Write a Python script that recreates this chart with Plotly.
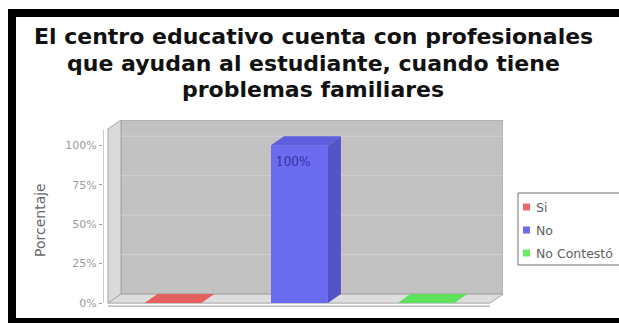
import plotly.graph_objects as go

# ---- data ----
categories = ["Si", "No", "No Contestó"]
values = [0, 100, 0]
colors_front = ["#ee6a6a", "#6b6bef", "#66ee66"]
colors_side = ["#c65454", "#5454c6", "#54c654"]
colors_top = ["#e66060", "#5d5ddd", "#5ee25e"]
y_ticks = [0, 25, 50, 75, 100]
tick_labels = ["0%", "25%", "50%", "75%", "100%"]
title_lines = [
    "El centro educativo cuenta con profesionales",
    "que ayudan al estudiante, cuando tiene",
    "problemas familiares",
]
y_title = "Porcentaje"

# ---- geometry (pixels) ----
W, H = 619, 323
L, R, T, B = 103, 503, 120, 311
XR = [-0.553, 2.609]
YR = [-5, 116]
kx = (R - L) / (XR[1] - XR[0])
ky = (B - T) / (YR[1] - YR[0])
DXp, DYp = 13, 9
DX, DY = DXp / kx, DYp / ky
BW = 0.45


def dx(px):
    return XR[0] + (px - L) / kx


def px_(x):
    return (x - L) / (R - L)


def py_(y):
    return (B - y) / (B - T)


def path(pts):
    return "M " + " L ".join(f"{x},{y}" for x, y in pts) + " Z"


fig = go.Figure()
shapes = []

# black frame (left, top, bottom strips)
for (x0, x1, y0, y1) in [(8, 16, 9, 323), (8, 619, 9, 17), (8, 619, 318, 323)]:
    shapes.append(dict(type="rect", xref="paper", yref="paper", layer="below",
                       x0=px_(x0), x1=px_(x1), y0=py_(y0), y1=py_(y1),
                       fillcolor="black", line=dict(width=0)))

# walls / floor
x_front_l = dx(108)
x_back_l = x_front_l + DX
x_back_r = dx(503)
x_front_r = x_back_r - DX
y_top = YR[1]
wall_line = dict(color="#a4a4a4", width=1)
shapes.append(dict(type="path", xref="x", yref="y", layer="below",
                   path=path([(x_back_l, DY), (x_back_r, DY), (x_back_r, y_top), (x_back_l, y_top)]),
                   fillcolor="#c2c2c2", line=wall_line))
shapes.append(dict(type="path", xref="x", yref="y", layer="below",
                   path=path([(x_front_l, 0), (x_back_l, DY), (x_back_l, y_top), (x_front_l, y_top - DY)]),
                   fillcolor="#dadada", line=wall_line))
shapes.append(dict(type="path", xref="x", yref="y", layer="below",
                   path=path([(x_front_l, 0), (x_front_r, 0), (x_back_r, DY), (x_back_l, DY)]),
                   fillcolor="#dedede", line=wall_line))
for v in y_ticks[1:]:
    shapes.append(dict(type="line", xref="x", yref="y", layer="below",
                       x0=x_back_l, x1=x_back_r, y0=v + DY, y1=v + DY,
                       line=dict(color="#d0d0d0", width=1)))
shapes.append(dict(type="line", xref="x", yref="y", layer="below",
                   x0=x_front_l, x1=x_front_r, y0=-3 / ky, y1=-3 / ky,
                   line=dict(color="#9a9a9a", width=1)))
shapes.append(dict(type="line", xref="x", yref="y", layer="below",
                   x0=XR[0], x1=XR[0], y0=0, y1=y_top - 6,
                   line=dict(color="#9a9a9a", width=1)))


def poly(xs, ys, fill):
    fig.add_trace(go.Scatter(x=xs + [xs[0]], y=ys + [ys[0]], mode="lines",
                             fill="toself", fillcolor=fill,
                             line=dict(color="rgba(0,0,0,0)", width=0),
                             hoverinfo="skip", showlegend=False))


for i, (c, v) in enumerate(zip(categories, values)):
    fig.add_trace(go.Bar(x=[i], y=[v], width=BW, name=c,
                         marker=dict(color=colors_front[i], line=dict(width=0)),
                         showlegend=False))
for i, v in enumerate(values):
    xl, xr = i - BW / 2, i + BW / 2
    if v > 0:
        poly([xr, xr + DX, xr + DX, xr], [0, DY, v + DY, v], colors_side[i])
    poly([xl, xr, xr + DX, xl + DX], [v, v, v + DY, v + DY], colors_top[i])

for i, v in enumerate(values):
    if v > 0:
        fig.add_annotation(x=i - BW / 2, y=v, xref="x", yref="y", text=f"{v}%",
                           showarrow=False, xanchor="left", yanchor="top",
                           xshift=3, yshift=-8,
                           font=dict(family="DejaVu Serif", size=12, color="#3030a0"))

lg_x, lg_y0, lg_y1 = 518, 193, 265
shapes.append(dict(type="rect", xref="paper", yref="paper",
                   x0=px_(lg_x), x1=px_(625), y0=py_(lg_y0), y1=py_(lg_y1),
                   fillcolor="white", line=dict(color="#707070", width=1)))
item_y = [207, 230, 253]
for i, c in enumerate(categories):
    yy = item_y[i]
    shapes.append(dict(type="rect", xref="paper", yref="paper",
                       x0=px_(523), x1=px_(530), y0=py_(yy - 3.5), y1=py_(yy + 3.5),
                       fillcolor=colors_front[i], line=dict(width=0)))
    fig.add_annotation(x=px_(534), y=py_(yy), xref="paper", yref="paper", text=c,
                       showarrow=False, xanchor="left", yanchor="middle",
                       font=dict(family="DejaVu Sans", size=12.5, color="#606060"))

title_y = [37, 64, 90]
for t, yy in zip(title_lines, title_y):
    fig.add_annotation(x=px_(313), y=py_(yy), xref="paper", yref="paper", text=f"<b>{t}</b>",
                       showarrow=False, xanchor="center", yanchor="middle",
                       font=dict(family="DejaVu Sans", size=22, color="#111111"))

fig.add_annotation(x=px_(40), y=py_(220), xref="paper", yref="paper", text=y_title,
                   showarrow=False, textangle=-90, xanchor="center", yanchor="middle",
                   font=dict(family="DejaVu Sans", size=14, color="#666666"))

fig.update_layout(
    width=W, height=H,
    margin=dict(l=L, r=W - R, t=T, b=H - B, pad=0),
    paper_bgcolor="white", plot_bgcolor="rgba(0,0,0,0)",
    shapes=shapes, showlegend=False, barmode="overlay",
    xaxis=dict(range=XR, showgrid=False, zeroline=False, showticklabels=False,
               ticks="", fixedrange=True),
    yaxis=dict(range=YR, tickvals=y_ticks, ticktext=tick_labels, showgrid=False,
               zeroline=False, ticks="outside", ticklen=3, tickcolor="#9a9a9a",
               tickfont=dict(family="DejaVu Sans", size=11, color="#9a9a9a"),
               fixedrange=True),
)

fig.write_html("out.html", config={"displayModeBar": False},
               post_script="document.documentElement.style.overflow='hidden';"
                           "document.body.style.margin='0';document.body.style.overflow='hidden';")
